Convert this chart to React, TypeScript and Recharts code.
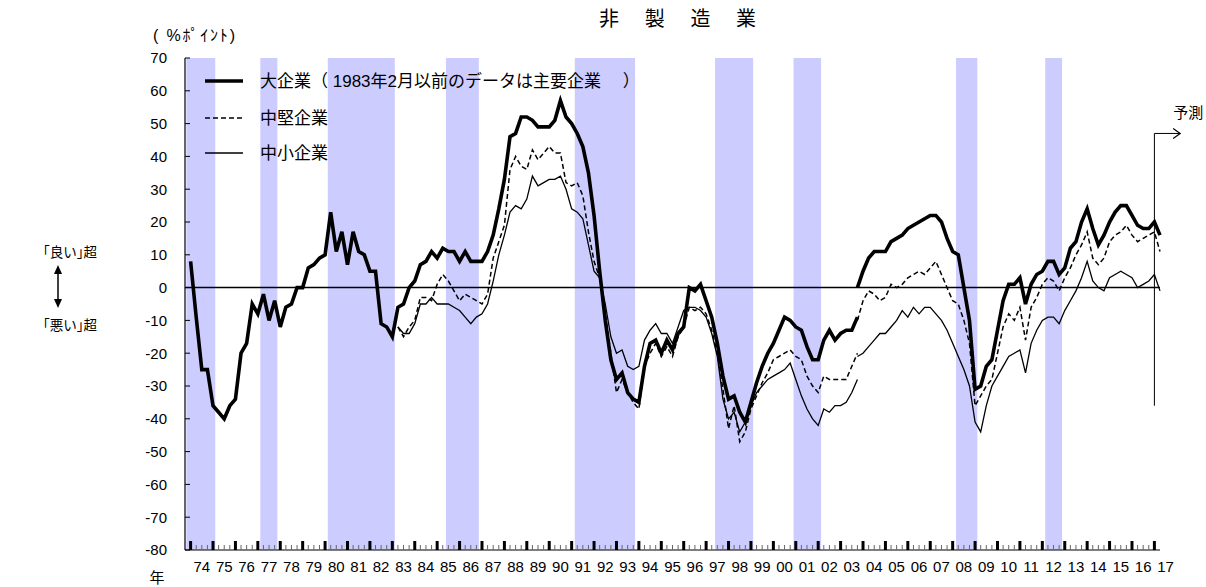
import React from 'react'
import { LineChart, Line, XAxis, YAxis, ReferenceArea, ReferenceLine } from 'recharts'

const FONT = "'Liberation Sans', Arial, 'Noto Sans CJK JP', sans-serif"

// 業況判断DI（非製造業）。t = 0 が 1974年の最初の調査で、以後四半期ごと
// 2003年12月調査（t = 119）で旧ベースと新ベースが重なる
const LARGE_OLD = [
  8, -9, -25, -25,
  -36, -38, -40, -36,
  -34, -20, -17, -5,
  -8, -2, -10, -4,
  -12, -6, -5, 0,
  0, 6, 7, 9,
  10, 23, 11, 17,
  7, 17, 11, 10,
  5, 5, -11, -12,
  -15, -6, -5, 0,
  2, 7, 8, 11,
  9, 12, 11, 11,
  8, 11, 8, 8,
  8, 11, 16, 24,
  33, 46, 47, 52,
  52, 51, 49, 49,
  49, 51, 57, 52,
  50, 47, 43, 35,
  22, 5, -10, -22,
  -28, -26, -32, -34,
  -35, -24, -17, -16,
  -20, -16, -19, -14,
  -12, 0, -1, 1,
  -4, -9, -17, -27,
  -34, -33, -38, -41,
  -35, -29, -24, -20,
  -17, -13, -9, -10,
  -12, -13, -18, -22,
  -22, -16, -13, -16,
  -14, -13, -13, -9,
]
const LARGE_NEW = [
  0,
  5, 9, 11, 11,
  11, 14, 15, 16,
  18, 19, 20, 21,
  22, 22, 20, 15,
  11, 10, 0, -10,
  -31, -30, -24, -22,
  -13, -4, 1, 1,
  3, -5, 1, 4,
  5, 8, 8, 4,
  6, 12, 14, 20,
  24, 18, 13, 16,
  20, 23, 25, 25,
  22, 19, 18, 18,
  20, 16,
]
const MID_OLD = [
  -12, -15, -12,
  -10, -3, -3, -4,
  1, 4, 2, -1,
  -4, -2, -3, -4,
  -5, -2, 9, 14,
  19, 36, 40, 37,
  36, 42, 39, 41,
  43, 41, 41, 32,
  31, 32, 28, 17,
  8, 3, -8, -20,
  -32, -28, -32, -35,
  -37, -24, -20, -17,
  -21, -18, -21, -15,
  -12, -6, -7, -6,
  -8, -13, -20, -31,
  -43, -36, -47, -44,
  -37, -33, -29, -26,
  -22, -21, -20, -19,
  -21, -22, -27, -30,
  -32, -27, -28, -28,
  -28, -28, -24, -20,
]
const MID_NEW = [
  -10,
  -4, -1, -2, -4,
  -3, 1, 0, 1,
  3, 4, 5, 4,
  6, 8, 4, 0,
  -4, -5, -10, -17,
  -36, -33, -30, -28,
  -20, -12, -8, -10,
  -6, -16, -6, -3,
  1, 3, 2, -1,
  3, 6, 10, 13,
  17, 9, 7, 9,
  14, 16, 17, 19,
  16, 14, 15, 16,
  17, 11,
]
const SMALL_OLD = [
  -12, -14, -14,
  -11, -5, -5, -3,
  -5, -5, -5, -6,
  -7, -9, -11, -9,
  -8, -5, 2, 10,
  16, 23, 25, 24,
  27, 34, 31, 32,
  33, 33, 34, 30,
  24, 23, 21, 13,
  5, 3, -5, -15,
  -20, -19, -24, -25,
  -24, -16, -13, -11,
  -14, -14, -17, -12,
  -7, -6, -6, -7,
  -9, -14, -21, -34,
  -40, -38, -44, -41,
  -36, -32, -30, -28,
  -27, -26, -25, -23,
  -28, -33, -37, -40,
  -42, -37, -38, -36,
  -36, -35, -32, -28,
]
const SMALL_NEW = [
  -21,
  -20, -18, -16, -14,
  -14, -12, -10, -7,
  -9, -6, -8, -6,
  -6, -8, -10, -13,
  -17, -21, -25, -30,
  -41, -44, -36, -30,
  -27, -24, -21, -20,
  -19, -26, -17, -13,
  -10, -9, -9, -11,
  -7, -4, -1, 3,
  8, 2, 0, -1,
  3, 4, 5, 4,
  3, 0, 1, 2,
  4, -1,
]

const MID_START = 37
const BREAK_T = 119
const FORECAST_T = 172

const YEAR_LABELS = [
  '74', '75', '76', '77', '78', '79', '80', '81', '82', '83', '84', '85', '86', '87', '88',
  '89', '90', '91', '92', '93', '94', '95', '96', '97', '98', '99', '00', '01', '02', '03',
  '04', '05', '06', '07', '08', '09', '10', '11', '12', '13', '14', '15', '16', '17',
]
const Y_TICKS = [70, 60, 50, 40, 30, 20, 10, 0, -10, -20, -30, -40, -50, -60, -70, -80]

// 景気後退期（年、小数）
const RECESSIONS = [
  [1973.81, 1975.1],
  [1977.11, 1977.87],
  [1980.12, 1983.11],
  [1985.39, 1986.86],
  [1991.14, 1993.83],
  [1997.4, 1999.1],
  [2000.9, 2002.13],
  [2008.15, 2009.1],
  [2012.13, 2012.88],
]

const LEGEND = [
  { label: '大企業（ 1983年2月以前のデータは主要企業　  ）', width: 3.5, dash: undefined },
  { label: '中堅企業', width: 1.5, dash: '5 3' },
  { label: '中小企業', width: 1.3, dash: undefined },
]

const LAST_T = BREAK_T + LARGE_NEW.length - 1

const pick = (arr: number[], start: number, t: number) =>
  t >= start && t < start + arr.length ? arr[t - start] : null

const TABLE = Array.from({ length: LAST_T + 1 }, (_, t) => ({
  t,
  largeOld: pick(LARGE_OLD, 0, t),
  largeNew: pick(LARGE_NEW, BREAK_T, t),
  midOld: pick(MID_OLD, MID_START, t),
  midNew: pick(MID_NEW, BREAK_T, t),
  smallOld: pick(SMALL_OLD, MID_START, t),
  smallNew: pick(SMALL_NEW, BREAK_T, t),
}))
const QUARTER_TICKS = TABLE.map((d) => d.t).filter((t) => t <= FORECAST_T)

const W = 1206
const H = 587
const PLOT = { left: 185, right: 1160, top: 58, bottom: 550 }
const Y_AXIS_W = 40
const X_AXIS_H = 30
const PX_PER_Q = (PLOT.right - PLOT.left) / (LAST_T + 1)

const yearToT = (y: number) => (y - 1974) * 4

function QuarterTick(props: any) {
  const { x, payload } = props
  const t = payload.value
  const yearStart = t % 4 === 0
  return (
    <g>
      {yearStart ? (
        <line x1={x} x2={x} y1={PLOT.bottom} y2={PLOT.bottom - 9} stroke="#000" strokeWidth={3} />
      ) : (
        <line x1={x} x2={x} y1={PLOT.bottom} y2={PLOT.bottom - 5} stroke="#666" strokeWidth={1} />
      )}
      {yearStart && (
        <text x={x + 2 * PX_PER_Q} y={PLOT.bottom + 22} textAnchor="middle" fontSize={15} fontFamily={FONT} fill="#000">
          {YEAR_LABELS[t / 4]}
        </text>
      )}
    </g>
  )
}

function ValueTick(props: any) {
  const { y, payload } = props
  return (
    <g>
      <line x1={PLOT.left} x2={PLOT.left + 5} y1={y} y2={y} stroke="#000" />
      <text x={PLOT.left - 18} y={y} dy="0.36em" textAnchor="end" fontSize={15} fontFamily={FONT} fill="#000">
        {payload.value}
      </text>
    </g>
  )
}

function ForecastArrow(props: any) {
  const { x1, y1, x2, y2 } = props
  return (
    <g>
      <line x1={x1} y1={y1} x2={x2} y2={y2} stroke="#000" strokeWidth={1} />
      <polyline points={`${x2 - 7},${y2 - 5} ${x2},${y2} ${x2 - 7},${y2 + 5}`} fill="none" stroke="#000" strokeWidth={1.2} />
      <text x={x2 + 8} y={y2 - 21} dy="0.36em" textAnchor="middle" fontSize={15} fontFamily={FONT} fill="#000">
        予測
      </text>
    </g>
  )
}

export default function App() {
  return (
    <div style={{ position: 'absolute', left: 0, top: 0, width: W, height: H, background: '#fff', fontFamily: FONT }}>
      <LineChart
        width={W}
        height={H}
        data={TABLE}
        margin={{ top: PLOT.top, right: W - PLOT.right, bottom: H - PLOT.bottom - X_AXIS_H, left: PLOT.left - Y_AXIS_W }}
      >
        {RECESSIONS.map(([s, e]) => (
          <ReferenceArea key={s} x1={yearToT(s)} x2={yearToT(e)} fill="#ccccff" fillOpacity={1} stroke="none" ifOverflow="hidden" />
        ))}
        <XAxis
          dataKey="t"
          type="number"
          domain={[-1, LAST_T]}
          ticks={QUARTER_TICKS}
          interval={0}
          tick={QuarterTick}
          tickLine={false}
          axisLine={{ stroke: '#000', strokeWidth: 1.2 }}
          height={X_AXIS_H}
        />
        <XAxis xAxisId="top" orientation="top" type="number" domain={[-1, LAST_T]} tick={false} tickLine={false} axisLine={{ stroke: '#000' }} height={0} />
        <YAxis
          type="number"
          domain={[-80, 70]}
          ticks={Y_TICKS}
          interval={0}
          tick={ValueTick}
          tickLine={false}
          axisLine={{ stroke: '#000', strokeWidth: 1.2 }}
          width={Y_AXIS_W}
        />
        <YAxis yAxisId="right" orientation="right" type="number" domain={[-80, 70]} tick={false} tickLine={false} axisLine={{ stroke: '#000' }} width={0} />
        <ReferenceLine y={0} stroke="#000" strokeWidth={1.5} />
        <Line dataKey="smallOld" stroke="#000" strokeWidth={1.3} dot={false} isAnimationActive={false} />
        <Line dataKey="smallNew" stroke="#000" strokeWidth={1.3} dot={false} isAnimationActive={false} />
        <Line dataKey="midOld" stroke="#000" strokeWidth={1.5} strokeDasharray="5 3" dot={false} isAnimationActive={false} />
        <Line dataKey="midNew" stroke="#000" strokeWidth={1.5} strokeDasharray="5 3" dot={false} isAnimationActive={false} />
        <Line dataKey="largeOld" stroke="#000" strokeWidth={3.6} dot={false} isAnimationActive={false} />
        <Line dataKey="largeNew" stroke="#000" strokeWidth={3.6} dot={false} isAnimationActive={false} />
        <ReferenceLine
          segment={[{ x: FORECAST_T, y: -36 }, { x: FORECAST_T, y: 47 }]}
          stroke="#000"
          strokeWidth={1}
          ifOverflow="visible"
        />
        <ReferenceLine
          segment={[{ x: FORECAST_T, y: 47 }, { x: FORECAST_T + 4.6, y: 47 }]}
          ifOverflow="visible"
          shape={ForecastArrow}
        />
      </LineChart>

      <svg width={W} height={H} style={{ position: 'absolute', left: 0, top: 0, pointerEvents: 'none' }}>
        {['非', '製', '造', '業'].map((c, i) => (
          <text key={c} x={609 + i * 45.7} y={19} dy="0.36em" textAnchor="middle" fontSize={20} fontFamily={FONT} fill="#000">
            {c}
          </text>
        ))}
        <text x={153} y={35} dy="0.36em" fontSize={16} fontFamily={FONT} fill="#000" textLength={82} lengthAdjust="spacing">
          ( %ﾎﾟｲﾝﾄ)
        </text>
        <text x={157} y={578} dy="0.36em" textAnchor="middle" fontSize={15} fontFamily={FONT} fill="#000">年</text>

        <text x={97} y={252} dy="0.36em" textAnchor="end" fontSize={13.5} fontFamily={FONT} fill="#000">｢良い｣超</text>
        <text x={97} y={325} dy="0.36em" textAnchor="end" fontSize={13.5} fontFamily={FONT} fill="#000">｢悪い｣超</text>
        <line x1={58} y1={272} x2={58} y2={301} stroke="#000" strokeWidth={1.5} />
        <polygon points="58,265 54,274 62,274" fill="#000" />
        <polygon points="58,308 54,299 62,299" fill="#000" />

        {LEGEND.map((item, i) => {
          const y = [81, 118, 153][i]
          return (
            <g key={item.label}>
              <line x1={205} x2={243} y1={y} y2={y} stroke="#000" strokeWidth={item.width} strokeDasharray={item.dash} />
              <text x={260} y={y} dy="0.36em" fontSize={17} fontFamily={FONT} fill="#000">
                {item.label}
              </text>
            </g>
          )
        })}
      </svg>
    </div>
  )
}
